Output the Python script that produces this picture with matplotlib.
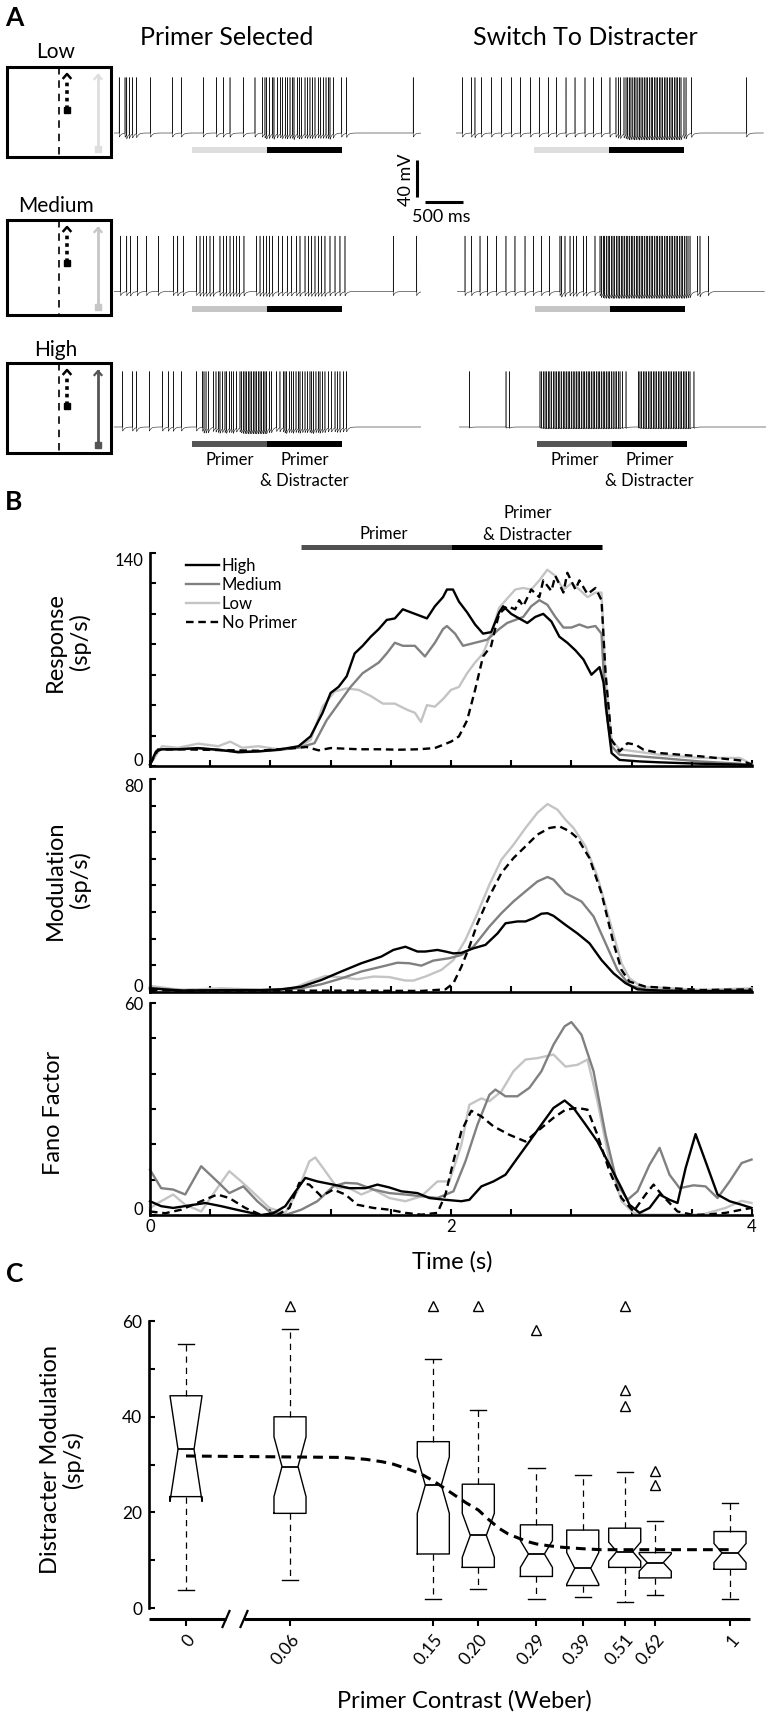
import numpy as np
import matplotlib
matplotlib.use("Agg")
import matplotlib.pyplot as plt
from matplotlib.patches import Rectangle

plt.rcParams['font.family'] = ['Lato', 'DejaVu Sans']

# ======================= DATA =======================
# ---- Panel A: spike times (s) ----
spikes_low_selected = [0.03, 0.107, 0.13, 0.164, 0.209, 0.262, 0.449, 0.742, 0.862, 1.151, 1.329,
                       1.418, 1.507, 1.684, 1.84, 1.938, 1.973, 1.996, 2.031, 2.071, 2.093, 2.138,
                       2.182, 2.209, 2.244, 2.271, 2.307, 2.342, 2.36, 2.409, 2.431, 2.462, 2.507,
                       2.538, 2.573, 2.604, 2.64, 2.684, 2.716, 2.751, 2.787, 2.818, 2.84, 2.884,
                       2.996, 3.062, 3.95]
spikes_low_switch = [0.049, 0.169, 0.213, 0.302, 0.436, 0.569, 0.702, 0.822, 0.956, 1.071, 1.191,
                     1.302, 1.427, 1.547, 1.68, 1.791, 1.902, 2.013, 2.093, 2.124, 2.156, 2.2,
                     2.227, 2.25, 2.27, 2.293, 2.318, 2.338, 2.36, 2.385, 2.404, 2.427, 2.451,
                     2.471, 2.494, 2.516, 2.538, 2.562, 2.582, 2.605, 2.627, 2.649, 2.672, 2.693,
                     2.716, 2.738, 2.76, 2.782, 2.805, 2.827, 2.849, 2.871, 2.894, 2.916, 2.938,
                     2.96, 3.0, 3.027, 3.102, 3.836]
spikes_med_selected = [0.049, 0.13, 0.182, 0.271, 0.396, 0.551, 0.751, 0.81, 0.884, 1.062, 1.107,
                       1.151, 1.196, 1.24, 1.284, 1.373, 1.418, 1.462, 1.507, 1.551, 1.596, 1.631,
                       1.693, 1.862, 1.907, 1.951, 1.996, 2.031, 2.076, 2.151, 2.209, 2.271, 2.329,
                       2.396, 2.44, 2.507, 2.551, 2.596, 2.64, 2.684, 2.729, 2.773, 2.84, 2.907,
                       2.973, 3.04, 3.684, 3.996]
spikes_med_switch = [0.067, 0.156, 0.267, 0.364, 0.489, 0.613, 0.733, 0.867, 0.978, 1.089, 1.191,
                     1.333, 1.356, 1.4, 1.467, 1.511, 1.556, 1.644, 1.689, 1.8,
                     1.867, 1.885, 1.91, 1.93, 1.952, 1.975, 1.995, 2.02, 2.04, 2.062, 2.085,
                     2.107, 2.128, 2.15, 2.172, 2.195, 2.216, 2.238, 2.26, 2.283, 2.305, 2.327,
                     2.35, 2.372, 2.393, 2.415, 2.437, 2.46, 2.482, 2.504, 2.526, 2.548, 2.57,
                     2.593, 2.615, 2.637, 2.659, 2.681, 2.703, 2.726, 2.748, 2.77, 2.792, 2.814,
                     2.837, 2.859, 2.881, 2.903, 2.926, 2.948, 2.97, 2.992, 3.015, 3.04, 3.067,
                     3.169, 3.2, 3.311]
spikes_high_selected = [0.076, 0.209, 0.262, 0.431, 0.609, 0.684, 0.751, 0.862, 1.062, 1.142, 1.16,
                        1.187, 1.218, 1.284, 1.32, 1.351, 1.373, 1.409, 1.44, 1.462, 1.498, 1.529,
                        1.551, 1.596, 1.64, 1.662, 1.684, 1.707, 1.729, 1.751, 1.773, 1.796, 1.818,
                        1.84, 1.862, 1.884, 1.907, 1.929, 1.951, 1.973, 1.996, 2.031, 2.062, 2.129,
                        2.173, 2.218, 2.24, 2.262, 2.298, 2.329, 2.351, 2.387, 2.418, 2.44, 2.476,
                        2.507, 2.538, 2.573, 2.596, 2.618, 2.653, 2.684, 2.707, 2.742, 2.773,
                        2.818, 2.862, 2.907, 2.938, 2.973, 3.018, 3.062]
spikes_high_switch = [0.098, 0.587, 0.631,
                      1.04, 1.062, 1.085, 1.107, 1.128, 1.15, 1.172, 1.195, 1.218, 1.24, 1.26,
                      1.283, 1.305, 1.327, 1.35, 1.372, 1.393, 1.415, 1.437, 1.46, 1.482, 1.505,
                      1.526, 1.548, 1.57, 1.592, 1.615, 1.637, 1.66, 1.682, 1.704, 1.726, 1.748,
                      1.77, 1.792, 1.815, 1.837, 1.86, 1.882, 1.904, 1.926, 1.948, 1.97, 1.993,
                      2.015, 2.04, 2.062, 2.085, 2.107, 2.142, 2.187,
                      2.351, 2.373, 2.396, 2.418, 2.44, 2.462, 2.485, 2.507, 2.529, 2.551, 2.573,
                      2.596, 2.618, 2.64, 2.662, 2.684, 2.707, 2.729, 2.751, 2.773, 2.796, 2.818,
                      2.84, 2.862, 2.884, 2.907, 2.929, 2.951, 2.973, 2.996, 3.018, 3.04, 3.093]
stim_primer = [1.0, 2.0]        # s
stim_distracter = [2.0, 3.0]    # s
row_names = ['Low', 'Medium', 'High']

# ---- Panel B: Response (sp/s) ----
resp_high_t = [0, .04, .08, .187, .32, .453, .587, .72, .853, .987, 1.067, 1.147, 1.2, 1.253, 1.307,
               1.36, 1.413, 1.467, 1.52, 1.573, 1.627, 1.68, 1.733, 1.787, 1.84, 1.893, 1.947, 1.973,
               2.013, 2.053, 2.107, 2.16, 2.213, 2.267, 2.32, 2.347, 2.4, 2.453, 2.507, 2.56, 2.613,
               2.667, 2.72, 2.773, 2.827, 2.88, 2.933, 2.987, 3.013, 3.04, 3.067, 3.12, 3.253, 3.387,
               3.653, 3.92, 4.0]
resp_high_v = [1, 9.6, 11, 11, 11.8, 10.7, 9, 9.6, 10.7, 13, 19.5, 35, 48, 52, 59, 74, 79, 85, 90,
               96, 97, 103, 101, 99, 97, 105, 111, 116, 116, 108, 101, 93, 87, 88, 101, 105, 100,
               97, 94, 98, 100, 95, 85, 81, 76, 70, 60, 65, 55, 30, 8.5, 4, 3, 2.4, 1.5, 0.9, 0.3]
resp_med_t = [0, .053, .187, .32, .453, .587, .72, .853, .987, 1.093, 1.173, 1.253, 1.333, 1.413, 1.52,
              1.573, 1.627, 1.68, 1.76, 1.827, 1.893, 1.947, 1.973, 2.027, 2.08, 2.16, 2.24, 2.32,
              2.373, 2.427, 2.48, 2.533, 2.587, 2.64, 2.693, 2.747, 2.8, 2.853, 2.907, 2.96, 3.0,
              3.027, 3.067, 3.12, 3.387, 3.653, 3.92, 4.0]
resp_med_v = [1, 11, 11, 11.5, 10.5, 9.5, 9.6, 10.5, 12, 15, 30, 41, 52, 61, 68, 74, 81, 79, 79, 72,
              81, 90, 92, 87, 79, 81, 83, 90, 94, 96, 98, 105, 109, 106, 98, 91, 91, 93, 91, 92, 87,
              39, 13, 7.4, 5.3, 3, 1.5, 0.5]
resp_low_t = [0, .08, .187, .32, .453, .533, .613, .72, .853, .987, 1.067, 1.147, 1.227, 1.307, 1.387,
              1.467, 1.547, 1.627, 1.707, 1.76, 1.8, 1.84, 1.893, 1.947, 2.0, 2.053, 2.107, 2.16,
              2.213, 2.267, 2.32, 2.373, 2.427, 2.48, 2.533, 2.587, 2.64, 2.693, 2.747, 2.8, 2.853,
              2.907, 2.96, 3.0, 3.027, 3.067, 3.12, 3.387, 3.653, 3.92, 4.0]
resp_low_v = [1, 13, 12, 14.7, 13, 16, 12, 13, 11, 12.5, 17, 39, 49, 51, 50, 46, 41, 41, 37, 35, 29,
              40, 39, 44, 50, 52, 61, 68, 74, 87, 104, 110, 116, 117, 116, 122, 129, 125, 116, 120,
              116, 111, 114, 114, 57, 17, 11, 7.4, 5.3, 5.3, 1]
resp_none_t = [0, .053, .187, .453, .72, .987, 1.04, 1.12, 1.2, 1.387, 1.52, 1.653, 1.787, 1.893, 2.0,
               2.053, 2.107, 2.16, 2.213, 2.267, 2.293, 2.32, 2.373, 2.427, 2.453, 2.48, 2.533, 2.587,
               2.613, 2.667, 2.693, 2.747, 2.773, 2.827, 2.853, 2.907, 2.96, 3.0, 3.027, 3.067, 3.12,
               3.173, 3.227, 3.28, 3.387, 3.653, 3.92, 4.0]
resp_none_v = [1, 10.7, 11, 10.5, 10, 12, 12.5, 10.3, 11.8, 11, 11, 10.7, 11, 11.8, 16, 19.5, 30, 50,
               72, 79, 90, 100, 105, 103, 109, 105, 116, 111, 122, 115, 125, 114, 127, 116, 122, 113,
               117, 109, 61, 17, 9.6, 15, 14, 10.7, 8.5, 6.4, 3.7, 1]

# ---- Panel B: Modulation (sp/s) ----
mod_high_t = [0, .207, .473, .739, .872, 1.005, 1.138, 1.271, 1.404, 1.537, 1.617, 1.697, 1.777, 1.83,
              1.91, 1.963, 2.016, 2.069, 2.149, 2.229, 2.309, 2.362, 2.441, 2.495, 2.548, 2.601, 2.641,
              2.681, 2.761, 2.84, 2.92, 3.0, 3.08, 3.16, 3.239, 3.399, 3.665, 3.997]
mod_high_v = [1.4, 0.5, 0.7, 0.75, 1, 2, 4.5, 7.7, 10.8, 13.3, 15.8, 17, 15.2, 15.2, 15.8, 15.2, 14.5,
              14.7, 16.4, 17.7, 22, 25.8, 26.5, 26.5, 27.7, 29.4, 29.6, 28.6, 25.2, 22, 18.3, 12, 7,
              3.3, 1, 0.5, 0.3, 0.4]
mod_med_t = [0, .207, .739, 1.005, 1.138, 1.271, 1.404, 1.537, 1.644, 1.723, 1.803, 1.883, 1.989, 2.069,
             2.149, 2.255, 2.335, 2.415, 2.495, 2.574, 2.641, 2.681, 2.761, 2.867, 2.947, 3.027, 3.106,
             3.186, 3.293, 3.665, 3.997]
mod_med_v = [1.4, 0.75, 0.5, 1.4, 2.9, 5.1, 7.7, 9.5, 11, 10.8, 9.9, 11.8, 12.7, 13.9, 17, 24.6, 29.6,
             34, 37.8, 41.5, 43.2, 42.2, 37.1, 34, 28.4, 18.3, 8.3, 2.6, 0.75, 0.4, 0.75]
mod_low_t = [0, .207, .473, .606, .739, .952, 1.059, 1.165, 1.271, 1.378, 1.484, 1.59, 1.697, 1.75, 1.83,
             1.936, 2.016, 2.096, 2.176, 2.255, 2.335, 2.415, 2.495, 2.574, 2.641, 2.707, 2.761, 2.814,
             2.894, 2.973, 3.053, 3.133, 3.186, 3.266, 3.665, 3.997]
mod_low_v = [2.3, 0.75, 1.4, 1.1, 0.75, 1.4, 3.9, 6, 5.5, 4.8, 5.8, 5.6, 4.3, 4.3, 5.8, 8.3, 12, 19.6,
             29.6, 40.3, 49.7, 55.3, 61.6, 67.3, 70.6, 68.5, 64.7, 61.6, 54.7, 43.4, 27, 10.8, 5.1, 2,
             0.75, 1.4]
mod_none_t = [0, .207, .739, 1.271, 1.803, 1.963, 2.016, 2.069, 2.122, 2.176, 2.255, 2.335, 2.415, 2.495,
              2.574, 2.654, 2.721, 2.787, 2.84, 2.92, 3.0, 3.08, 3.133, 3.186, 3.293, 3.665, 3.997]
mod_none_v = [0.75, 0.5, 0.5, 0.5, 0.4, 1, 3.3, 9.5, 17, 25.8, 35.9, 44.7, 50.3, 54.7, 59.1, 61.6, 62.2,
              60.4, 57.8, 50.3, 37.1, 18.3, 8.3, 3.9, 2, 0.75, 1]

# ---- Panel B: Fano factor ----
fano_high_t = [0, .074, .154, .261, .367, .473, .606, .739, .819, .899, .952, 1.032, 1.112, 1.218, 1.324,
               1.431, 1.511, 1.59, 1.67, 1.777, 1.856, 1.963, 2.069, 2.122, 2.202, 2.282, 2.362, 2.441,
               2.521, 2.601, 2.681, 2.755, 2.814, 2.894, 2.973, 3.053, 3.133, 3.186, 3.253, 3.319,
               3.386, 3.452, 3.505, 3.559, 3.625, 3.691, 3.771, 3.851, 3.931, 3.997]
fano_high_v = [3.9, 2.5, 2, 2.7, 3.4, 2.5, 1.2, 0, 0.5, 2.5, 5.8, 10.5, 9.5, 8.6, 7.6, 7.6, 8.6, 7.8,
               6.7, 6.2, 4.8, 4.3, 3.9, 4.3, 8.1, 9.5, 11.4, 16.1, 20.8, 25.6, 30.3, 32.4, 30.3, 25.6,
               20.8, 14.2, 7.6, 2.9, 0.6, 2, 5.8, 4.3, 3.4, 13.3, 22.9, 15.2, 5.8, 3.9, 2.9, 2]
fano_med_t = [0, .074, .154, .234, .34, .447, .527, .62, .713, .793, .899, 1.005, 1.112, 1.218, 1.298,
              1.378, 1.484, 1.59, 1.697, 1.803, 1.91, 2.016, 2.096, 2.176, 2.255, 2.295, 2.362, 2.441,
              2.521, 2.601, 2.681, 2.755, 2.8, 2.867, 2.947, 3.027, 3.106, 3.173, 3.239, 3.319, 3.386,
              3.452, 3.519, 3.612, 3.691, 3.771, 3.851, 3.931, 3.997]
fano_med_v = [12.8, 7.6, 7.2, 5.8, 13.8, 9.5, 6.2, 8.1, 3.9, 1, 0, 1.5, 3.9, 8.1, 9.1, 8.9, 7.2, 6.2,
              5.8, 5.3, 4.8, 6.7, 15.2, 25.6, 34, 35.5, 33.6, 33.6, 36, 40.7, 48.2, 53.4, 54.6, 51,
              40.7, 22.7, 8.6, 4.3, 6.7, 14.2, 19, 11.4, 7.6, 8.4, 8.1, 4.8, 9.5, 14.7, 15.7]
fano_low_t = [0, .074, .154, .234, .34, .447, .527, .606, .713, .793, .899, .979, 1.059, 1.098, 1.165,
              1.245, 1.324, 1.404, 1.484, 1.59, 1.697, 1.803, 1.91, 1.989, 2.069, 2.122, 2.202, 2.255,
              2.335, 2.415, 2.495, 2.574, 2.681, 2.761, 2.84, 2.907, 2.973, 3.053, 3.133, 3.213, 3.293,
              3.399, 3.665, 3.824, 3.931, 3.997]
fano_low_v = [2, 3.9, 5.8, 2.9, 1, 7.6, 12.4, 9.5, 5.3, 2, 0.6, 6.7, 15.2, 16.3, 12.4, 7.6, 7.6, 5.8,
              7.2, 4.8, 3.9, 5.3, 9.5, 9.5, 19.9, 31.2, 33, 32.2, 35, 40.7, 44, 44.4, 45.4, 42, 42.5,
              44, 32.2, 15.2, 3.9, 0.6, 0.1, 0.1, 0.1, 2, 4, 3.4]
fano_none_t = [0, .101, .207, .34, .447, .527, .633, .739, .846, .926, .992, 1.059, 1.138, 1.218, 1.298,
               1.378, 1.484, 1.59, 1.697, 1.803, 1.91, 1.963, 2.016, 2.069, 2.135, 2.202, 2.282, 2.388,
               2.495, 2.574, 2.681, 2.761, 2.84, 2.907, 2.973, 3.053, 3.133, 3.213, 3.293, 3.346, 3.399,
               3.505, 3.612, 3.718, 3.824, 3.931, 3.997]
fano_none_v = [1, 0.5, 1.5, 3.9, 5.8, 4.8, 2, 0, 0, 2, 9.1, 8.6, 5.3, 7.2, 5.8, 2.9, 2, 1.5, 0.6, 0.1,
               0.6, 5.8, 15.2, 23.7, 29.5, 27.9, 25.1, 22.7, 20.8, 23.7, 27.5, 29.8, 30.3, 29.8, 22.7,
               12.4, 4.8, 1, 5.8, 8.6, 5.8, 1, 0, 0.2, 0.6, 1.5, 2]

series_labels = ['High', 'Medium', 'Low', 'No Primer']

# ---- Panel C: distracter modulation vs primer contrast ----
contrast = [0, 0.06, 0.15, 0.20, 0.29, 0.39, 0.51, 0.62, 1]
contrast_labels = ['0', '0.06', '0.15', '0.20', '0.29', '0.39', '0.51', '0.62', '1']
box_whislo = [3.8, 5.9, 1.9, 4.0, 1.9, 2.2, 1.2, 2.8, 1.9]
box_q1 = [23.3, 19.8, 11.3, 8.5, 6.6, 4.7, 8.5, 6.3, 8.1]
box_cilo = [22.3, 23.3, 19.8, 10.6, 8.5, 5.0, 9.8, 7.7, 9.5]
box_med = [33.2, 29.6, 25.7, 15.2, 11.3, 8.3, 11.8, 9.5, 11.5]
box_cihi = [44.4, 35.8, 31.6, 19.8, 14.1, 11.6, 13.8, 11.3, 13.5]
box_q3 = [44.4, 40.0, 34.8, 25.9, 17.4, 16.3, 16.7, 11.6, 16.0]
box_whishi = [55.3, 58.4, 52.0, 41.4, 29.2, 27.8, 28.4, 18.2, 22.0]
box_fliers = [[], [63.1], [63.1], [63.1], [58.2], [], [63.1, 45.5, 42.3], [28.7, 25.7], []]
fit_contrast = [0, 0.06, 0.084, 0.0975, 0.108, 0.116, 0.126, 0.1375, 0.15, 0.16, 0.172, 0.185, 0.20,
                0.213, 0.228, 0.242, 0.259, 0.274, 0.29, 0.315, 0.343, 0.39, 0.438, 0.51, 0.746, 1.0]
fit_value = [31.8, 31.6, 31.5, 31.1, 30.6, 30.1, 29.2, 28.2, 26.6, 25.2, 23.6, 22.0, 20.5, 18.6, 16.7,
             15.5, 14.6, 13.9, 13.4, 13.0, 12.7, 12.4, 12.2, 12.2, 12.2, 12.2]

# ======================= FIGURE =======================
W, H = 766, 1716
fig = plt.figure(figsize=(W / 100, H / 100), dpi=100)
fig.patch.set_facecolor('white')


def px_axes(l, t, r, b):
    ax = fig.add_axes([l / W, 1 - b / H, (r - l) / W, (b - t) / H])
    ax.patch.set_visible(False)
    return ax


def ftext(x, y, s, **kw):
    return fig.text(x / W, 1 - y / H, s, **kw)


ov = fig.add_axes([0, 0, 1, 1])
ov.set_xlim(0, W)
ov.set_ylim(H, 0)
ov.axis('off')

# ---------------- Panel A ----------------
ftext(14, 18, 'A', fontsize=19, fontweight='bold', ha='center', va='center')
ftext(227, 45, 'Primer Selected', fontsize=18, ha='center', va='baseline')
ftext(585, 45, 'Switch To Distracter', fontsize=18, ha='center', va='baseline')

T0, T1 = -0.04, 4.06
PXS = 75.0
PXMV = 0.925
VLO, VHI = -30, 66
SPIKE_PEAK = 60
BAR_V = -18.4
row_base = [133, 291.5, 427]
col_x0 = [[117, 459], [117, 460], [117, 462]]
trace_spikes = [[spikes_low_selected, spikes_low_switch],
                [spikes_med_selected, spikes_med_switch],
                [spikes_high_selected, spikes_high_switch]]
primer_colors = ['#dedede', '#c6c6c6', '#555555']
ahp_depth = [[4.5, 4.5], [4.5, 4.5], [4.5, 1.2]]
box_rows = [(67, 157), (220, 315), (363, 453)]
label_base = [58, 212, 356]

tt = np.arange(T0, T1, 0.001)
for r in range(3):
    for c in range(2):
        x0 = col_x0[r][c]
        base = row_base[r]
        ax = px_axes(x0 + T0 * PXS, base - VHI * PXMV, x0 + T1 * PXS, base - VLO * PXMV)
        ax.set_xlim(T0, T1)
        ax.set_ylim(VLO, VHI)
        ax.axis('off')
        sp = np.asarray(trace_spikes[r][c])
        v = np.zeros_like(tt)
        for s in sp:
            m = tt > s
            v[m] -= ahp_depth[r][c] * np.exp(-(tt[m] - s) / 0.025)
        idx = np.searchsorted(tt, sp)
        v[idx] = SPIKE_PEAK
        ax.plot(tt, v, color='#1a1a1a', lw=0.4)
        ax.plot(stim_primer, [BAR_V] * 2, color=primer_colors[r], lw=4.3, solid_capstyle='butt')
        ax.plot(stim_distracter, [BAR_V] * 2, color='black', lw=4.3, solid_capstyle='butt')
        if r == 2:
            yb1 = (base - 465) / PXMV
            yb2 = (base - 486) / PXMV
            ax.text(np.mean(stim_primer), yb1, 'Primer', ha='center', va='baseline', fontsize=12)
            ax.text(np.mean(stim_distracter), yb1, 'Primer', ha='center', va='baseline', fontsize=12)
            ax.text(np.mean(stim_distracter), yb2, '& Distracter', ha='center', va='baseline', fontsize=12)
        if r == 0 and c == 1:
            # scale bar: 40 mV, 500 ms
            ax.plot([-0.56, -0.56], [-29.2, -69.2], color='black', lw=2.2, clip_on=False,
                    solid_capstyle='butt')
            ax.plot([-0.453, 0.047], [-74.6, -74.6], color='black', lw=2.2, clip_on=False,
                    solid_capstyle='butt')
            ax.text(-0.707, -50.8, '40 mV', rotation=90, ha='center', va='center', fontsize=13)
            ax.text(-0.24, -90.8, '500 ms', ha='center', va='center', fontsize=13)

    # schematic box
    top, bot = box_rows[r]
    ftext(56, label_base[r], row_names[r], fontsize=15, ha='center', va='baseline')
    ov.add_patch(Rectangle((7, top), 104, bot - top, fill=False, lw=2.2, ec='black'))
    ov.plot([59, 59], [top, bot], color='black', lw=1.2, dashes=(4.5, 3.5))
    ov.plot([67, 67], [top + 42, top + 13], color='black', lw=2.6, linestyle=(0, (1, 1.1)))
    ov.plot([67], [top + 43], marker='s', ms=4.5, color='black')
    ov.plot([63.5, 67, 70.5], [top + 11, top + 7, top + 11], color='black', lw=1.8)
    gcol = primer_colors[r]
    ov.plot([98, 98], [bot - 8, top + 8], color=gcol, lw=2.0)
    ov.plot([94.5, 98, 101.5], [top + 12, top + 8, top + 12], color=gcol, lw=1.6)
    ov.plot([98], [bot - 8], marker='s', ms=4.5, color=gcol)

# ---------------- Panel B ----------------
ftext(14, 502, 'B', fontsize=19, fontweight='bold', ha='center', va='center')

XL, XR = 150, 752
resp_ax = px_axes(XL, 553, XR, 766)
mod_ax = px_axes(XL, 779, XR, 992)
fano_ax = px_axes(XL, 1003, XR, 1215)

styles = [dict(color='black', lw=1.7),
          dict(color='#808080', lw=1.7),
          dict(color='#c4c4c4', lw=1.7),
          dict(color='black', lw=1.7, dashes=(3.2, 2.0))]

panels = [
    (resp_ax, 140, 20, [(resp_high_t, resp_high_v), (resp_med_t, resp_med_v),
                        (resp_low_t, resp_low_v), (resp_none_t, resp_none_v)]),
    (mod_ax, 80, 10, [(mod_high_t, mod_high_v), (mod_med_t, mod_med_v),
                      (mod_low_t, mod_low_v), (mod_none_t, mod_none_v)]),
    (fano_ax, 60, 10, [(fano_high_t, fano_high_v), (fano_med_t, fano_med_v),
                       (fano_low_t, fano_low_v), (fano_none_t, fano_none_v)]),
]
draw_order = [2, 1, 0, 3]
xt = np.round(np.arange(0, 4.001, 0.4), 2)
for k, (ax, ymax, ystep, series) in enumerate(panels):
    handles = [None] * 4
    for i in draw_order:
        t, v = series[i]
        ln, = ax.plot(t, v, label=series_labels[i], clip_on=False, **styles[i])
        handles[i] = ln
    ax.set_xlim(0, 4)
    ax.set_ylim(0, ymax)
    for s in ['top', 'right']:
        ax.spines[s].set_visible(False)
    for s in ['left', 'bottom']:
        ax.spines[s].set_linewidth(1.9)
    yt = np.arange(0, ymax + 0.1, ystep)
    ax.set_yticks(yt)
    ax.set_yticklabels(['0'] + [''] * (len(yt) - 2) + [str(ymax)])
    ax.set_xticks(xt)
    if k == 2:
        ax.set_xticklabels(['0' if x == 0 else ('2' if x == 2 else ('4' if x == 4 else '')) for x in xt])
    else:
        ax.set_xticklabels([''] * len(xt))
    ax.tick_params(direction='in', length=4.5, width=1.5, labelsize=12, pad=5)
    ax.tick_params(axis='x', pad=3)
    ylabs = ax.get_yticklabels()
    ylabs[0].set_va('baseline')
    if k < 2:
        ylabs[-1].set_va('top')
    if k == 0:
        ax.legend(handles=handles, labels=series_labels, loc='upper left',
                  bbox_to_anchor=(0.06, 0.975), frameon=False, fontsize=12,
                  handlelength=2.0, handletextpad=0.15, labelspacing=0.17,
                  borderaxespad=0, borderpad=0)
        ax.plot(stim_primer, [144, 144], color='#505050', lw=3.6, clip_on=False, solid_capstyle='butt')
        ax.plot(stim_distracter, [144, 144], color='black', lw=3.6, clip_on=False, solid_capstyle='butt')
        ax.text(1.55, (766 - 539) / 1.52, 'Primer', ha='center', va='baseline', fontsize=12)
        ax.text(2.51, (766 - 518) / 1.52, 'Primer', ha='center', va='baseline', fontsize=12)
        ax.text(2.51, (766 - 540) / 1.52, '& Distracter', ha='center', va='baseline', fontsize=12)

ftext(68, 642, 'Response\n(sp/s)', rotation=90, ha='center', va='center', fontsize=17,
      linespacing=1.15, multialignment='center')
ftext(68, 880, 'Modulation\n(sp/s)', rotation=90, ha='center', va='center', fontsize=17,
      linespacing=1.15, multialignment='center')
ftext(53, 1113, 'Fano Factor', rotation=90, ha='center', va='center', fontsize=17)
ftext(452, 1262, 'Time (s)', ha='center', va='center', fontsize=17)

# ---------------- Panel C ----------------
ftext(15, 1274, 'C', fontsize=19, fontweight='bold', ha='center', va='center')
ZERO_POS = -1.5106
cax = px_axes(149, 1292.5, 750, 1619)
cax.set_xlim(-1.6134, 0.0555)
cax.set_ylim(-2.3, 66)


def cpos(c):
    return ZERO_POS if c == 0 else np.log10(c)


positions = [cpos(c) for c in contrast]
stats = []
for i in range(len(contrast)):
    stats.append(dict(med=box_med[i], q1=box_q1[i], q3=box_q3[i], whislo=box_whislo[i],
                      whishi=box_whishi[i], cilo=box_cilo[i], cihi=box_cihi[i],
                      fliers=box_fliers[i], label=contrast_labels[i]))
cax.bxp(stats, positions=positions, widths=0.089, capwidths=0.045, shownotches=True,
        showfliers=True, manage_ticks=False,
        boxprops=dict(color='black', lw=1.0),
        whiskerprops=dict(color='black', lw=0.9, linestyle=(0, (5, 4))),
        capprops=dict(color='black', lw=1.0),
        medianprops=dict(color='black', lw=1.3),
        flierprops=dict(marker='^', markersize=7, markerfacecolor='none',
                        markeredgecolor='black', markeredgewidth=1.0))
cax.plot([cpos(c) for c in fit_contrast], fit_value, color='black', lw=2.2, dashes=(3.2, 2.0), zorder=5)

for s in ['top', 'right', 'bottom']:
    cax.spines[s].set_visible(False)
cax.spines['left'].set_bounds(0, 60)
cax.spines['left'].set_linewidth(1.9)
cax.set_yticks(np.arange(0, 61, 10))
cax.set_yticklabels(['0', '', '20', '', '40', '', '60'])
cax.tick_params(axis='y', direction='in', length=4.5, width=1.5, labelsize=12.5, pad=5)
cax.set_xticks(positions)
cax.set_xticklabels(contrast_labels, rotation=50, ha='right', va='top', rotation_mode='anchor')
cax.tick_params(axis='x', direction='out', length=5, width=1.5, labelsize=12.5, pad=4)

# broken x axis line
gap_l, gap_r = (226 - 149) / 601, (244 - 149) / 601
ch = 1619 - 1292.5
cax.plot([0, gap_l], [0, 0], transform=cax.transAxes, color='black', lw=2.2, clip_on=False,
         solid_capstyle='butt')
cax.plot([gap_r, 1], [0, 0], transform=cax.transAxes, color='black', lw=2.2, clip_on=False,
         solid_capstyle='butt')
for gx in (gap_l, gap_r):
    cax.plot([gx - 3.5 / 601, gx + 3.5 / 601], [-8 / ch, 8 / ch], transform=cax.transAxes,
             color='black', lw=1.6, clip_on=False)

ftext(62, 1460, 'Distracter Modulation\n(sp/s)', rotation=90, ha='center', va='center',
      fontsize=17, linespacing=1.1, multialignment='center')
ftext(464, 1701, 'Primer Contrast (Weber)', ha='center', va='center', fontsize=17)

fig.savefig('out.png', dpi=100, facecolor='white')
